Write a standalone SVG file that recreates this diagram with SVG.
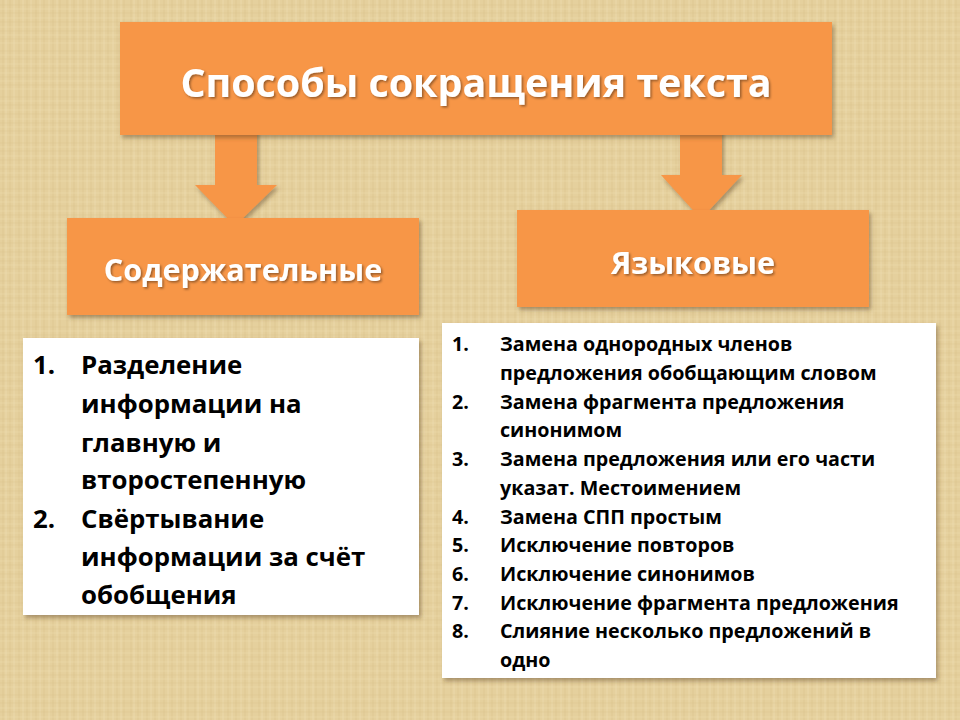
<svg xmlns="http://www.w3.org/2000/svg" width="960" height="720" viewBox="0 0 960 720">
<defs>
<pattern id="burlap" width="64" height="46" patternUnits="userSpaceOnUse">
<rect width="64" height="46" fill="#e5d09d"/>
<path d="M3 0V46M10 0V46M19 0V46M27 0V46M36 0V46M44 0V46M53 0V46M60 0V46" stroke="#d4bb80" stroke-width="1" opacity="0.4"/>
<path d="M6 0V46M14 0V46M23 0V46M31 0V46M40 0V46M49 0V46M57 0V46" stroke="#f0e0b5" stroke-width="1" opacity="0.5"/>
<path d="M0 5H64M0 13H64M0 22H64M0 31H64M0 39H64" stroke="#d8c28b" stroke-width="1" opacity="0.35"/>
<path d="M0 9H64M0 18H64M0 27H64M0 35H64M0 43H64" stroke="#eedeb1" stroke-width="1" opacity="0.45"/>
</pattern>
<filter id="shadow" x="-5%" y="-5%" width="112%" height="120%">
<feDropShadow dx="2" dy="3" stdDeviation="2" flood-color="#5a4020" flood-opacity="0.45"/>
</filter>
<filter id="tshadow" x="-5%" y="-20%" width="110%" height="150%">
<feDropShadow dx="1.5" dy="1.5" stdDeviation="1" flood-color="#000" flood-opacity="0.4"/>
</filter>
</defs>
<style>
.orange{fill:#f79646}
.white{fill:#ffffff}
.title{font-family:"Open Sans","Noto Sans","DejaVu Sans",sans-serif;font-weight:bold;fill:#ffffff;text-anchor:middle}
.big{font-family:"Open Sans","Noto Sans","DejaVu Sans",sans-serif;font-weight:bold;fill:#000000;font-size:25.8px}
.small{font-family:"Open Sans","Noto Sans","DejaVu Sans",sans-serif;font-weight:bold;fill:#000000;font-size:19.7px}
</style>
<rect width="960" height="720" fill="url(#burlap)"/>

<g id="connectors">
<path class="orange" filter="url(#shadow)" d="M215 120H257V185H277L235 226L195 185H215Z"/>
<path class="orange" filter="url(#shadow)" d="M680 110H722V175H742L701 219L661 175H680Z"/>
</g>

<g id="node-root">
<rect class="orange" filter="url(#shadow)" x="120" y="22" width="712" height="113"/>
<text class="title" filter="url(#tshadow)" x="476" y="97" font-size="39.4">Способы сокращения текста</text>
</g>

<g id="node-content">
<rect class="orange" filter="url(#shadow)" x="67" y="218" width="352" height="97"/>
<text class="title" filter="url(#tshadow)" x="243" y="281" font-size="30.5">Содержательные</text>
</g>

<g id="node-language">
<rect class="orange" filter="url(#shadow)" x="517" y="210" width="352" height="97"/>
<text class="title" filter="url(#tshadow)" x="693" y="274" font-size="30.5">Языковые</text>
</g>

<g id="node-content-list">
<rect class="white" filter="url(#shadow)" x="23" y="338" width="396" height="277"/>
<text class="big" x="33" y="374">1.</text>
<text class="big" x="81" y="374">Разделение</text>
<text class="big" x="81" y="413">информации на</text>
<text class="big" x="81" y="452">главную и</text>
<text class="big" x="81" y="489">второстепенную</text>
<text class="big" x="33" y="528">2.</text>
<text class="big" x="81" y="528">Свёртывание</text>
<text class="big" x="81" y="566">информации за счёт</text>
<text class="big" x="81" y="604">обобщения</text>
</g>

<g id="node-language-list">
<rect class="white" filter="url(#shadow)" x="442" y="323" width="494" height="355"/>
<text class="small" x="452" y="351">1.</text>
<text class="small" x="500" y="351">Замена однородных членов</text>
<text class="small" x="500" y="380">предложения обобщающим словом</text>
<text class="small" x="452" y="409">2.</text>
<text class="small" x="500" y="409">Замена фрагмента предложения</text>
<text class="small" x="500" y="437">синонимом</text>
<text class="small" x="452" y="466">3.</text>
<text class="small" x="500" y="466">Замена предложения или его части</text>
<text class="small" x="500" y="495">указат. Местоимением</text>
<text class="small" x="452" y="524">4.</text>
<text class="small" x="500" y="524">Замена СПП простым</text>
<text class="small" x="452" y="552">5.</text>
<text class="small" x="500" y="552">Исключение повторов</text>
<text class="small" x="452" y="581">6.</text>
<text class="small" x="500" y="581">Исключение синонимов</text>
<text class="small" x="452" y="610">7.</text>
<text class="small" x="500" y="610">Исключение фрагмента предложения</text>
<text class="small" x="452" y="638">8.</text>
<text class="small" x="500" y="638">Слияние несколько предложений в</text>
<text class="small" x="500" y="667">одно</text>
</g>
</svg>
